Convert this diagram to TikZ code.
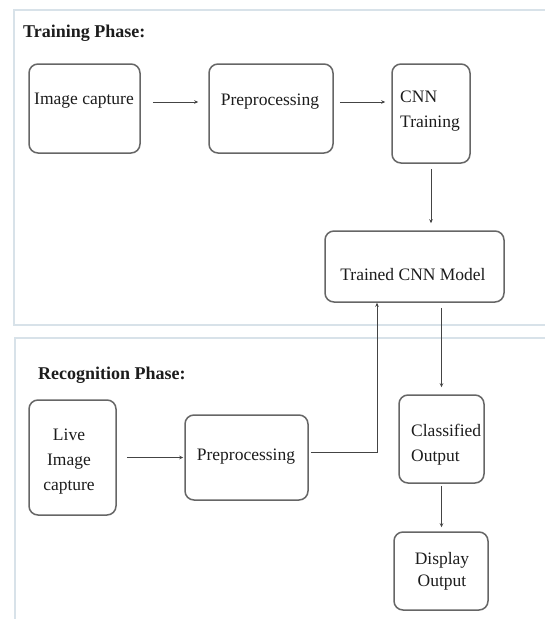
\documentclass[tikz,border=0pt]{standalone}
\usepackage{fontspec}
\setmainfont{Liberation Serif}
\usetikzlibrary{arrows.meta}
\definecolor{boxgray}{HTML}{666666}
\definecolor{txtcol}{HTML}{1C1C1C}
\definecolor{linecol}{HTML}{444444}
\definecolor{panelcol}{HTML}{D8E2E9}
\begin{document}
\begin{tikzpicture}[x=1pt,y=-1pt,
  box/.style={draw=boxgray, line width=1.5pt, rounded corners=9pt, inner sep=0pt},
  txt/.style={font=\fontsize{17.5}{25}\selectfont, text=txtcol, inner sep=0pt, align=center},
  ltxt/.style={txt, align=left, anchor=west},
  ttl/.style={font=\fontsize{18}{22}\selectfont\bfseries, text=txtcol, inner sep=0pt, anchor=west},
  arr/.style={draw=linecol, line width=0.9pt, -{Stealth[length=4pt,width=3.5pt]}},
  panel/.style={draw=panelcol, line width=1.6pt}]
\useasboundingbox (0,0) rectangle (545,619);
% panels
\draw[panel] (545,10) -- (14,10) -- (14,325) -- (545,325);
\draw[panel] (545,338) -- (15,338) -- (15,619);
% titles
\node[ttl] (t1) at (23,33) {Training Phase:};
\node[ttl] (t2) at (38,375) {Recognition Phase:};
% boxes
\node[box, minimum width=111pt, minimum height=89pt] (cap) at (84.5,108.5) {};
\node[box, minimum width=124pt, minimum height=89pt] (pre1) at (271,108.5) {};
\node[box, minimum width=78pt, minimum height=99pt] (cnn) at (431,113.5) {};
\node[box, minimum width=179pt, minimum height=71pt] (model) at (414.5,266.5) {};
\node[box, minimum width=87pt, minimum height=115pt] (live) at (72.5,457.5) {};
\node[box, minimum width=123pt, minimum height=85pt] (pre2) at (246.5,457.5) {};
\node[box, minimum width=85pt, minimum height=88pt] (cls) at (441.5,439) {};
\node[box, minimum width=94pt, minimum height=78pt] (disp) at (441,571) {};
% texts
\node[txt] (capT) at (84,101) {Image capture};
\node[txt] (pre1T) at (270,102) {Preprocessing};
\node[ltxt] (cnnT) at (400,111.5) {CNN\\Training};
\node[txt] (modelT) at (413,275) {Trained CNN Model};
\node[txt] (liveT) at (69,462) {Live\\Image\\capture};
\node[txt] (pre2T) at (246,457) {Preprocessing};
\node[ltxt] (clsT) at (411,445) {Classified\\Output};
\node[txt] (dispT) at (442,571) {Display\\[-3pt]Output};
% connectors
\coordinate (a0) at ([yshift=6.5pt]cap.east);
\coordinate (a1) at ([yshift=6.5pt]pre1.east);
\draw[arr, shorten <=12pt, shorten >=10pt] (a0) -- (a0 -| pre1.west);
\draw[arr, shorten <=6pt, shorten >=6pt] (a1) -- (a1 -| cnn.west);
\draw[arr, shorten <=5pt, shorten >=7pt] (cnn.south) -- (cnn.south |- model.north);
\draw[arr, shorten <=10pt, shorten >=1pt] (live.east) -- (pre2.west);
\coordinate (b1) at ([yshift=5.5pt]pre2.east);
\coordinate (b2) at ([xshift=-37.5pt]model.south);
\draw[arr, shorten <=2pt] (b1) -| (b2);
\draw[arr, shorten <=5pt, shorten >=7pt] (model.south -| cls.north) -- (cls.north);
\draw[arr, shorten <=2pt, shorten >=4pt] (cls.south) -- (cls.south |- disp.north);
\end{tikzpicture}
\end{document}
